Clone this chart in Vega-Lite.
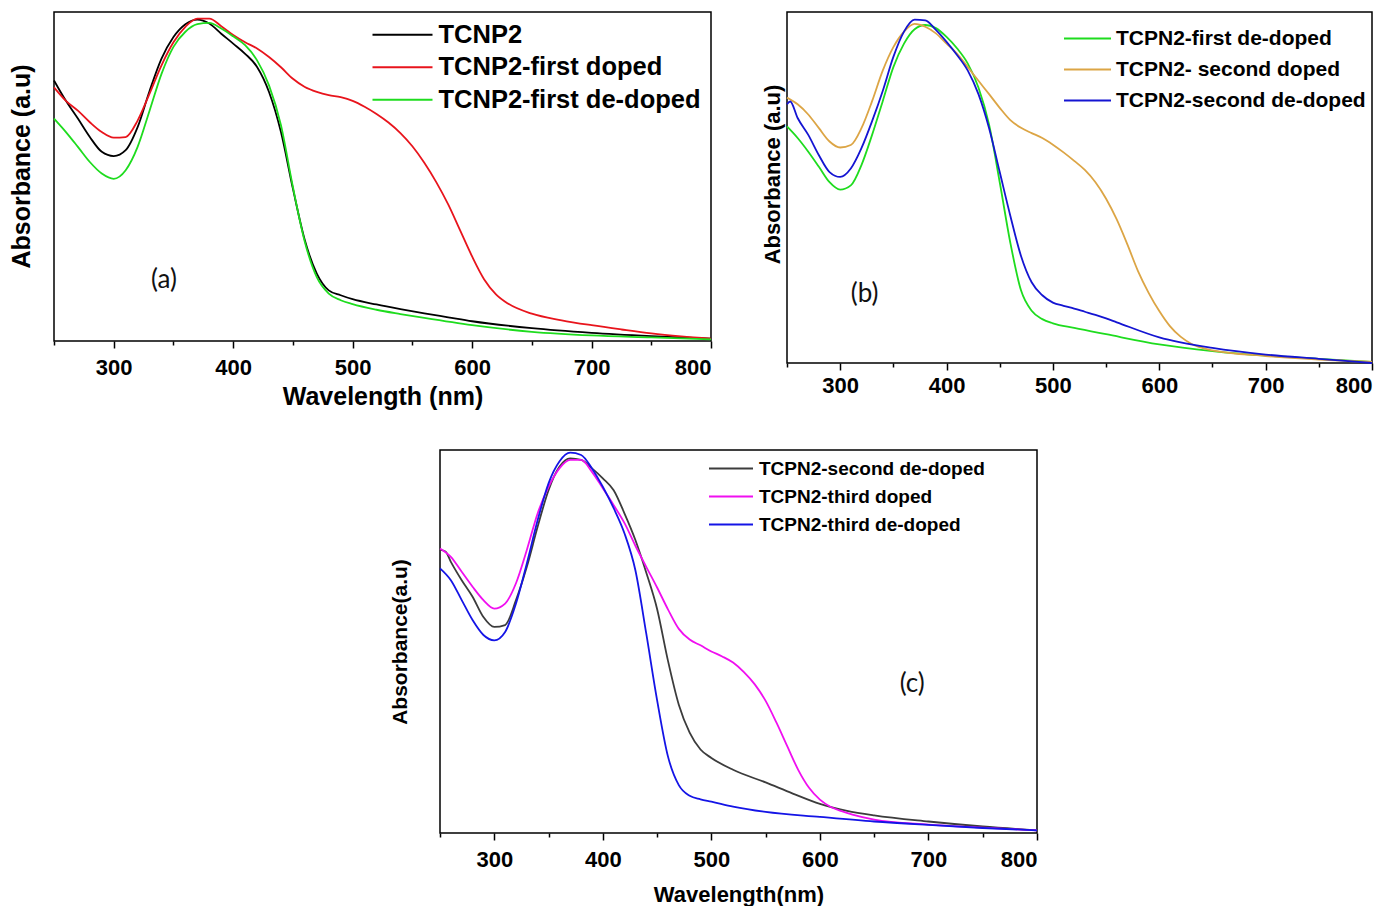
{
  "$schema": "https://vega.github.io/schema/vega-lite/v6.json",
  "background": "white",
  "padding": {"left": 8, "top": 11, "right": 0, "bottom": 0},
  "config": {
    "view": {"stroke": "black", "strokeWidth": 1.5},
    "axis": {"domain": false, "grid": false, "labelFont": "Liberation Sans", "labelFontWeight": "bold", "labelFontSize": 22, "labelColor": "black", "titleFont": "Liberation Sans", "titleFontWeight": "bold", "titleColor": "black", "tickColor": "black", "tickWidth": 1.5},
    "legend": {"labelFont": "Liberation Sans", "labelFontWeight": "bold", "labelColor": "black", "labelLimit": 600, "symbolStrokeWidth": 2, "padding": 0}
  },
  "datasets": {
    "a": [
      {"s":"TCNP2","w":250,"v":0.792},{"s":"TCNP2","w":260,"v":0.73},{"s":"TCNP2","w":270,"v":0.676},{"s":"TCNP2","w":280,"v":0.62},{"s":"TCNP2","w":290,"v":0.575},{"s":"TCNP2","w":300,"v":0.562},{"s":"TCNP2","w":310,"v":0.58},{"s":"TCNP2","w":320,"v":0.65},{"s":"TCNP2","w":330,"v":0.76},{"s":"TCNP2","w":340,"v":0.858},{"s":"TCNP2","w":350,"v":0.924},{"s":"TCNP2","w":360,"v":0.963},{"s":"TCNP2","w":370,"v":0.977},{"s":"TCNP2","w":380,"v":0.965},{"s":"TCNP2","w":390,"v":0.934},{"s":"TCNP2","w":400,"v":0.904},{"s":"TCNP2","w":410,"v":0.873},{"s":"TCNP2","w":420,"v":0.833},{"s":"TCNP2","w":430,"v":0.757},{"s":"TCNP2","w":440,"v":0.635},{"s":"TCNP2","w":450,"v":0.463},{"s":"TCNP2","w":460,"v":0.306},{"s":"TCNP2","w":470,"v":0.205},{"s":"TCNP2","w":480,"v":0.154},{"s":"TCNP2","w":490,"v":0.139},{"s":"TCNP2","w":500,"v":0.127},{"s":"TCNP2","w":520,"v":0.111},{"s":"TCNP2","w":540,"v":0.097},{"s":"TCNP2","w":560,"v":0.084},{"s":"TCNP2","w":580,"v":0.072},{"s":"TCNP2","w":600,"v":0.06},{"s":"TCNP2","w":650,"v":0.039},{"s":"TCNP2","w":700,"v":0.025},{"s":"TCNP2","w":750,"v":0.015},{"s":"TCNP2","w":800,"v":0.007},
      {"s":"TCNP2-first doped","w":250,"v":0.771},{"s":"TCNP2-first doped","w":260,"v":0.73},{"s":"TCNP2-first doped","w":270,"v":0.7},{"s":"TCNP2-first doped","w":280,"v":0.665},{"s":"TCNP2-first doped","w":290,"v":0.635},{"s":"TCNP2-first doped","w":300,"v":0.618},{"s":"TCNP2-first doped","w":310,"v":0.62},{"s":"TCNP2-first doped","w":320,"v":0.67},{"s":"TCNP2-first doped","w":330,"v":0.752},{"s":"TCNP2-first doped","w":340,"v":0.838},{"s":"TCNP2-first doped","w":350,"v":0.908},{"s":"TCNP2-first doped","w":360,"v":0.955},{"s":"TCNP2-first doped","w":370,"v":0.98},{"s":"TCNP2-first doped","w":380,"v":0.98},{"s":"TCNP2-first doped","w":390,"v":0.957},{"s":"TCNP2-first doped","w":400,"v":0.93},{"s":"TCNP2-first doped","w":410,"v":0.908},{"s":"TCNP2-first doped","w":420,"v":0.889},{"s":"TCNP2-first doped","w":430,"v":0.863},{"s":"TCNP2-first doped","w":440,"v":0.832},{"s":"TCNP2-first doped","w":450,"v":0.797},{"s":"TCNP2-first doped","w":460,"v":0.772},{"s":"TCNP2-first doped","w":470,"v":0.757},{"s":"TCNP2-first doped","w":480,"v":0.747},{"s":"TCNP2-first doped","w":490,"v":0.741},{"s":"TCNP2-first doped","w":500,"v":0.73},{"s":"TCNP2-first doped","w":510,"v":0.712},{"s":"TCNP2-first doped","w":520,"v":0.69},{"s":"TCNP2-first doped","w":530,"v":0.664},{"s":"TCNP2-first doped","w":540,"v":0.632},{"s":"TCNP2-first doped","w":550,"v":0.592},{"s":"TCNP2-first doped","w":560,"v":0.542},{"s":"TCNP2-first doped","w":570,"v":0.483},{"s":"TCNP2-first doped","w":580,"v":0.415},{"s":"TCNP2-first doped","w":590,"v":0.336},{"s":"TCNP2-first doped","w":600,"v":0.257},{"s":"TCNP2-first doped","w":610,"v":0.188},{"s":"TCNP2-first doped","w":620,"v":0.142},{"s":"TCNP2-first doped","w":630,"v":0.114},{"s":"TCNP2-first doped","w":650,"v":0.083},{"s":"TCNP2-first doped","w":675,"v":0.063},{"s":"TCNP2-first doped","w":700,"v":0.048},{"s":"TCNP2-first doped","w":725,"v":0.035},{"s":"TCNP2-first doped","w":750,"v":0.023},{"s":"TCNP2-first doped","w":775,"v":0.014},{"s":"TCNP2-first doped","w":800,"v":0.007},
      {"s":"TCNP2-first de-doped","w":250,"v":0.676},{"s":"TCNP2-first de-doped","w":260,"v":0.635},{"s":"TCNP2-first de-doped","w":270,"v":0.59},{"s":"TCNP2-first de-doped","w":280,"v":0.544},{"s":"TCNP2-first de-doped","w":290,"v":0.509},{"s":"TCNP2-first de-doped","w":300,"v":0.493},{"s":"TCNP2-first de-doped","w":310,"v":0.519},{"s":"TCNP2-first de-doped","w":320,"v":0.59},{"s":"TCNP2-first de-doped","w":330,"v":0.7},{"s":"TCNP2-first de-doped","w":340,"v":0.812},{"s":"TCNP2-first de-doped","w":350,"v":0.894},{"s":"TCNP2-first de-doped","w":360,"v":0.94},{"s":"TCNP2-first de-doped","w":370,"v":0.963},{"s":"TCNP2-first de-doped","w":380,"v":0.967},{"s":"TCNP2-first de-doped","w":390,"v":0.95},{"s":"TCNP2-first de-doped","w":400,"v":0.926},{"s":"TCNP2-first de-doped","w":410,"v":0.899},{"s":"TCNP2-first de-doped","w":420,"v":0.853},{"s":"TCNP2-first de-doped","w":430,"v":0.777},{"s":"TCNP2-first de-doped","w":440,"v":0.656},{"s":"TCNP2-first de-doped","w":450,"v":0.468},{"s":"TCNP2-first de-doped","w":460,"v":0.301},{"s":"TCNP2-first de-doped","w":470,"v":0.194},{"s":"TCNP2-first de-doped","w":480,"v":0.144},{"s":"TCNP2-first de-doped","w":490,"v":0.124},{"s":"TCNP2-first de-doped","w":500,"v":0.112},{"s":"TCNP2-first de-doped","w":520,"v":0.095},{"s":"TCNP2-first de-doped","w":540,"v":0.082},{"s":"TCNP2-first de-doped","w":560,"v":0.07},{"s":"TCNP2-first de-doped","w":600,"v":0.048},{"s":"TCNP2-first de-doped","w":650,"v":0.028},{"s":"TCNP2-first de-doped","w":700,"v":0.017},{"s":"TCNP2-first de-doped","w":750,"v":0.011},{"s":"TCNP2-first de-doped","w":800,"v":0.005}
    ],
    "b": [
      {"s":"TCPN2-first de-doped","w":250,"v":0.674},{"s":"TCPN2-first de-doped","w":260,"v":0.641},{"s":"TCPN2-first de-doped","w":270,"v":0.602},{"s":"TCPN2-first de-doped","w":280,"v":0.559},{"s":"TCPN2-first de-doped","w":290,"v":0.515},{"s":"TCPN2-first de-doped","w":300,"v":0.494},{"s":"TCPN2-first de-doped","w":310,"v":0.506},{"s":"TCPN2-first de-doped","w":320,"v":0.564},{"s":"TCPN2-first de-doped","w":330,"v":0.65},{"s":"TCPN2-first de-doped","w":340,"v":0.746},{"s":"TCPN2-first de-doped","w":350,"v":0.843},{"s":"TCPN2-first de-doped","w":360,"v":0.91},{"s":"TCPN2-first de-doped","w":370,"v":0.951},{"s":"TCPN2-first de-doped","w":380,"v":0.963},{"s":"TCPN2-first de-doped","w":390,"v":0.954},{"s":"TCPN2-first de-doped","w":400,"v":0.929},{"s":"TCPN2-first de-doped","w":410,"v":0.896},{"s":"TCPN2-first de-doped","w":420,"v":0.853},{"s":"TCPN2-first de-doped","w":430,"v":0.785},{"s":"TCPN2-first de-doped","w":440,"v":0.679},{"s":"TCPN2-first de-doped","w":450,"v":0.515},{"s":"TCPN2-first de-doped","w":460,"v":0.342},{"s":"TCPN2-first de-doped","w":470,"v":0.207},{"s":"TCPN2-first de-doped","w":480,"v":0.149},{"s":"TCPN2-first de-doped","w":490,"v":0.125},{"s":"TCPN2-first de-doped","w":500,"v":0.113},{"s":"TCPN2-first de-doped","w":520,"v":0.1},{"s":"TCPN2-first de-doped","w":550,"v":0.082},{"s":"TCPN2-first de-doped","w":600,"v":0.053},{"s":"TCPN2-first de-doped","w":650,"v":0.034},{"s":"TCPN2-first de-doped","w":700,"v":0.021},{"s":"TCPN2-first de-doped","w":750,"v":0.012},{"s":"TCPN2-first de-doped","w":800,"v":0.003},
      {"s":"TCPN2- second doped","w":250,"v":0.756},{"s":"TCPN2- second doped","w":260,"v":0.737},{"s":"TCPN2- second doped","w":270,"v":0.708},{"s":"TCPN2- second doped","w":280,"v":0.669},{"s":"TCPN2- second doped","w":290,"v":0.631},{"s":"TCPN2- second doped","w":300,"v":0.614},{"s":"TCPN2- second doped","w":310,"v":0.621},{"s":"TCPN2- second doped","w":320,"v":0.669},{"s":"TCPN2- second doped","w":330,"v":0.746},{"s":"TCPN2- second doped","w":340,"v":0.833},{"s":"TCPN2- second doped","w":350,"v":0.9},{"s":"TCPN2- second doped","w":360,"v":0.944},{"s":"TCPN2- second doped","w":370,"v":0.966},{"s":"TCPN2- second doped","w":380,"v":0.958},{"s":"TCPN2- second doped","w":390,"v":0.939},{"s":"TCPN2- second doped","w":400,"v":0.91},{"s":"TCPN2- second doped","w":410,"v":0.881},{"s":"TCPN2- second doped","w":420,"v":0.843},{"s":"TCPN2- second doped","w":430,"v":0.804},{"s":"TCPN2- second doped","w":440,"v":0.766},{"s":"TCPN2- second doped","w":450,"v":0.727},{"s":"TCPN2- second doped","w":460,"v":0.692},{"s":"TCPN2- second doped","w":470,"v":0.67},{"s":"TCPN2- second doped","w":480,"v":0.655},{"s":"TCPN2- second doped","w":490,"v":0.641},{"s":"TCPN2- second doped","w":500,"v":0.622},{"s":"TCPN2- second doped","w":510,"v":0.6},{"s":"TCPN2- second doped","w":520,"v":0.576},{"s":"TCPN2- second doped","w":530,"v":0.55},{"s":"TCPN2- second doped","w":540,"v":0.515},{"s":"TCPN2- second doped","w":550,"v":0.468},{"s":"TCPN2- second doped","w":560,"v":0.409},{"s":"TCPN2- second doped","w":570,"v":0.338},{"s":"TCPN2- second doped","w":580,"v":0.262},{"s":"TCPN2- second doped","w":590,"v":0.2},{"s":"TCPN2- second doped","w":600,"v":0.148},{"s":"TCPN2- second doped","w":610,"v":0.105},{"s":"TCPN2- second doped","w":620,"v":0.075},{"s":"TCPN2- second doped","w":630,"v":0.055},{"s":"TCPN2- second doped","w":650,"v":0.036},{"s":"TCPN2- second doped","w":700,"v":0.02},{"s":"TCPN2- second doped","w":750,"v":0.01},{"s":"TCPN2- second doped","w":800,"v":0.003},
      {"s":"TCPN2-second de-doped","w":250,"v":0.737},{"s":"TCPN2-second de-doped","w":253,"v":0.745},{"s":"TCPN2-second de-doped","w":260,"v":0.698},{"s":"TCPN2-second de-doped","w":270,"v":0.65},{"s":"TCPN2-second de-doped","w":280,"v":0.592},{"s":"TCPN2-second de-doped","w":290,"v":0.544},{"s":"TCPN2-second de-doped","w":300,"v":0.53},{"s":"TCPN2-second de-doped","w":310,"v":0.554},{"s":"TCPN2-second de-doped","w":320,"v":0.612},{"s":"TCPN2-second de-doped","w":330,"v":0.689},{"s":"TCPN2-second de-doped","w":340,"v":0.775},{"s":"TCPN2-second de-doped","w":350,"v":0.872},{"s":"TCPN2-second de-doped","w":360,"v":0.944},{"s":"TCPN2-second de-doped","w":370,"v":0.978},{"s":"TCPN2-second de-doped","w":380,"v":0.976},{"s":"TCPN2-second de-doped","w":390,"v":0.949},{"s":"TCPN2-second de-doped","w":400,"v":0.915},{"s":"TCPN2-second de-doped","w":410,"v":0.877},{"s":"TCPN2-second de-doped","w":420,"v":0.833},{"s":"TCPN2-second de-doped","w":430,"v":0.766},{"s":"TCPN2-second de-doped","w":440,"v":0.669},{"s":"TCPN2-second de-doped","w":450,"v":0.544},{"s":"TCPN2-second de-doped","w":460,"v":0.419},{"s":"TCPN2-second de-doped","w":470,"v":0.305},{"s":"TCPN2-second de-doped","w":480,"v":0.23},{"s":"TCPN2-second de-doped","w":490,"v":0.193},{"s":"TCPN2-second de-doped","w":500,"v":0.172},{"s":"TCPN2-second de-doped","w":510,"v":0.163},{"s":"TCPN2-second de-doped","w":520,"v":0.155},{"s":"TCPN2-second de-doped","w":530,"v":0.146},{"s":"TCPN2-second de-doped","w":540,"v":0.137},{"s":"TCPN2-second de-doped","w":550,"v":0.127},{"s":"TCPN2-second de-doped","w":560,"v":0.116},{"s":"TCPN2-second de-doped","w":600,"v":0.073},{"s":"TCPN2-second de-doped","w":650,"v":0.043},{"s":"TCPN2-second de-doped","w":700,"v":0.024},{"s":"TCPN2-second de-doped","w":750,"v":0.012},{"s":"TCPN2-second de-doped","w":800,"v":0.0}
    ],
    "c": [
      {"s":"TCPN2-second de-doped","w":250,"v":0.739},{"s":"TCPN2-second de-doped","w":255,"v":0.735},{"s":"TCPN2-second de-doped","w":260,"v":0.708},{"s":"TCPN2-second de-doped","w":270,"v":0.66},{"s":"TCPN2-second de-doped","w":280,"v":0.617},{"s":"TCPN2-second de-doped","w":290,"v":0.564},{"s":"TCPN2-second de-doped","w":300,"v":0.538},{"s":"TCPN2-second de-doped","w":310,"v":0.543},{"s":"TCPN2-second de-doped","w":320,"v":0.608},{"s":"TCPN2-second de-doped","w":330,"v":0.695},{"s":"TCPN2-second de-doped","w":340,"v":0.8},{"s":"TCPN2-second de-doped","w":350,"v":0.895},{"s":"TCPN2-second de-doped","w":360,"v":0.956},{"s":"TCPN2-second de-doped","w":370,"v":0.978},{"s":"TCPN2-second de-doped","w":380,"v":0.974},{"s":"TCPN2-second de-doped","w":390,"v":0.952},{"s":"TCPN2-second de-doped","w":400,"v":0.926},{"s":"TCPN2-second de-doped","w":410,"v":0.895},{"s":"TCPN2-second de-doped","w":420,"v":0.834},{"s":"TCPN2-second de-doped","w":430,"v":0.765},{"s":"TCPN2-second de-doped","w":440,"v":0.68},{"s":"TCPN2-second de-doped","w":450,"v":0.585},{"s":"TCPN2-second de-doped","w":460,"v":0.45},{"s":"TCPN2-second de-doped","w":470,"v":0.335},{"s":"TCPN2-second de-doped","w":480,"v":0.262},{"s":"TCPN2-second de-doped","w":490,"v":0.218},{"s":"TCPN2-second de-doped","w":500,"v":0.196},{"s":"TCPN2-second de-doped","w":520,"v":0.165},{"s":"TCPN2-second de-doped","w":550,"v":0.132},{"s":"TCPN2-second de-doped","w":575,"v":0.103},{"s":"TCPN2-second de-doped","w":600,"v":0.076},{"s":"TCPN2-second de-doped","w":625,"v":0.058},{"s":"TCPN2-second de-doped","w":650,"v":0.046},{"s":"TCPN2-second de-doped","w":700,"v":0.03},{"s":"TCPN2-second de-doped","w":750,"v":0.017},{"s":"TCPN2-second de-doped","w":800,"v":0.007},
      {"s":"TCPN2-third doped","w":250,"v":0.743},{"s":"TCPN2-third doped","w":260,"v":0.721},{"s":"TCPN2-third doped","w":270,"v":0.682},{"s":"TCPN2-third doped","w":280,"v":0.643},{"s":"TCPN2-third doped","w":290,"v":0.608},{"s":"TCPN2-third doped","w":300,"v":0.586},{"s":"TCPN2-third doped","w":310,"v":0.599},{"s":"TCPN2-third doped","w":320,"v":0.652},{"s":"TCPN2-third doped","w":330,"v":0.739},{"s":"TCPN2-third doped","w":340,"v":0.835},{"s":"TCPN2-third doped","w":350,"v":0.904},{"s":"TCPN2-third doped","w":360,"v":0.952},{"s":"TCPN2-third doped","w":370,"v":0.974},{"s":"TCPN2-third doped","w":380,"v":0.974},{"s":"TCPN2-third doped","w":390,"v":0.943},{"s":"TCPN2-third doped","w":400,"v":0.9},{"s":"TCPN2-third doped","w":410,"v":0.856},{"s":"TCPN2-third doped","w":420,"v":0.809},{"s":"TCPN2-third doped","w":430,"v":0.75},{"s":"TCPN2-third doped","w":440,"v":0.695},{"s":"TCPN2-third doped","w":450,"v":0.641},{"s":"TCPN2-third doped","w":460,"v":0.584},{"s":"TCPN2-third doped","w":470,"v":0.533},{"s":"TCPN2-third doped","w":480,"v":0.505},{"s":"TCPN2-third doped","w":490,"v":0.49},{"s":"TCPN2-third doped","w":500,"v":0.474},{"s":"TCPN2-third doped","w":510,"v":0.461},{"s":"TCPN2-third doped","w":520,"v":0.445},{"s":"TCPN2-third doped","w":530,"v":0.42},{"s":"TCPN2-third doped","w":540,"v":0.388},{"s":"TCPN2-third doped","w":550,"v":0.345},{"s":"TCPN2-third doped","w":560,"v":0.288},{"s":"TCPN2-third doped","w":570,"v":0.226},{"s":"TCPN2-third doped","w":580,"v":0.165},{"s":"TCPN2-third doped","w":590,"v":0.118},{"s":"TCPN2-third doped","w":600,"v":0.087},{"s":"TCPN2-third doped","w":610,"v":0.068},{"s":"TCPN2-third doped","w":620,"v":0.057},{"s":"TCPN2-third doped","w":630,"v":0.048},{"s":"TCPN2-third doped","w":650,"v":0.035},{"s":"TCPN2-third doped","w":700,"v":0.022},{"s":"TCPN2-third doped","w":750,"v":0.014},{"s":"TCPN2-third doped","w":800,"v":0.007},
      {"s":"TCPN2-third de-doped","w":250,"v":0.691},{"s":"TCPN2-third de-doped","w":260,"v":0.66},{"s":"TCPN2-third de-doped","w":270,"v":0.608},{"s":"TCPN2-third de-doped","w":280,"v":0.556},{"s":"TCPN2-third de-doped","w":290,"v":0.517},{"s":"TCPN2-third de-doped","w":300,"v":0.503},{"s":"TCPN2-third de-doped","w":310,"v":0.525},{"s":"TCPN2-third de-doped","w":320,"v":0.599},{"s":"TCPN2-third de-doped","w":330,"v":0.704},{"s":"TCPN2-third de-doped","w":340,"v":0.817},{"s":"TCPN2-third de-doped","w":350,"v":0.913},{"s":"TCPN2-third de-doped","w":360,"v":0.97},{"s":"TCPN2-third de-doped","w":370,"v":0.993},{"s":"TCPN2-third de-doped","w":380,"v":0.987},{"s":"TCPN2-third de-doped","w":390,"v":0.952},{"s":"TCPN2-third de-doped","w":400,"v":0.904},{"s":"TCPN2-third de-doped","w":410,"v":0.848},{"s":"TCPN2-third de-doped","w":420,"v":0.782},{"s":"TCPN2-third de-doped","w":430,"v":0.686},{"s":"TCPN2-third de-doped","w":440,"v":0.521},{"s":"TCPN2-third de-doped","w":450,"v":0.347},{"s":"TCPN2-third de-doped","w":460,"v":0.2},{"s":"TCPN2-third de-doped","w":470,"v":0.125},{"s":"TCPN2-third de-doped","w":480,"v":0.097},{"s":"TCPN2-third de-doped","w":490,"v":0.088},{"s":"TCPN2-third de-doped","w":500,"v":0.082},{"s":"TCPN2-third de-doped","w":520,"v":0.069},{"s":"TCPN2-third de-doped","w":550,"v":0.055},{"s":"TCPN2-third de-doped","w":600,"v":0.042},{"s":"TCPN2-third de-doped","w":650,"v":0.03},{"s":"TCPN2-third de-doped","w":700,"v":0.021},{"s":"TCPN2-third de-doped","w":750,"v":0.013},{"s":"TCPN2-third de-doped","w":800,"v":0.007}
    ]
  },
  "spacing": 38,
  "resolve": {"scale": {"color": "independent", "x": "independent", "y": "independent"}, "legend": {"color": "independent"}},
  "vconcat": [
    {
      "spacing": 44,
      "resolve": {"scale": {"color": "independent", "x": "independent", "y": "independent"}, "legend": {"color": "independent"}},
      "hconcat": [
        {
          "width": 657, "height": 329,
          "layer": [
            {
              "data": {"name": "a"},
              "mark": {"type": "line", "strokeWidth": 1.8, "interpolate": "monotone"},
              "encoding": {
                "x": {"field": "w", "type": "quantitative", "scale": {"domain": [250, 800], "nice": false, "zero": false},
                  "axis": {"title": "Wavelength (nm)", "titleFontSize": 25, "titlePadding": 6, "values": [250,300,350,400,450,500,550,600,650,700,750,800], "labelExpr": "datum.value % 100 === 0 ? datum.label : ''", "tickSize": {"condition": {"test": "datum.value % 100 !== 0", "value": 4}, "value": 7}, "labelPadding": 9}},
                "y": {"field": "v", "type": "quantitative", "scale": {"domain": [0, 1], "nice": false},
                  "axis": {"title": "Absorbance (a.u)", "labels": false, "ticks": false, "titleFontSize": 25, "titlePadding": 20, "titleY": 154}},
                "color": {"field": "s", "type": "nominal",
                  "scale": {"domain": ["TCNP2", "TCNP2-first doped", "TCNP2-first de-doped"], "range": ["#000000", "#e8141c", "#1edc1e"]},
                  "legend": {"title": null, "orient": "top-right", "offset": 10, "symbolType": "M-4.525,0H1.475", "symbolSize": 400, "labelFontSize": 25.5, "labelOffset": 8, "rowPadding": 5.5}}
              }
            },
            {
              "data": {"values": [{"label": "(a)"}]},
              "mark": {"type": "text", "font": "Lato", "fontSize": 26, "color": "#111111"},
              "encoding": {"x": {"datum": 342}, "y": {"datum": 0.185}, "text": {"field": "label"}}
            }
          ]
        },
        {
          "width": 585, "height": 351,
          "layer": [
            {
              "data": {"name": "b"},
              "mark": {"type": "line", "strokeWidth": 1.8, "interpolate": "monotone"},
              "encoding": {
                "x": {"field": "w", "type": "quantitative", "scale": {"domain": [250, 800], "nice": false, "zero": false},
                  "axis": {"title": null, "values": [250,300,350,400,450,500,550,600,650,700,750,800], "labelExpr": "datum.value % 100 === 0 ? datum.label : ''", "tickSize": {"condition": {"test": "datum.value % 100 !== 0", "value": 4}, "value": 7}, "labelPadding": 5}},
                "y": {"field": "v", "type": "quantitative", "scale": {"domain": [0, 1], "nice": false},
                  "axis": {"title": "Absorbance (a.u)", "labels": false, "ticks": false, "titleFontSize": 22, "titlePadding": 3, "titleY": 162}},
                "color": {"field": "s", "type": "nominal",
                  "scale": {"domain": ["TCPN2-first de-doped", "TCPN2- second doped", "TCPN2-second de-doped"], "range": ["#1edc1e", "#dca545", "#1414d2"]},
                  "legend": {"title": null, "orient": "none", "legendX": 302, "legendY": 16, "symbolType": "M-4.4375,0H1.4375", "symbolSize": 256, "labelFontSize": 21, "labelOffset": 6, "rowPadding": 9}}
              }
            },
            {
              "data": {"values": [{"label": "(b)"}]},
              "mark": {"type": "text", "font": "Lato", "fontSize": 26, "color": "#111111"},
              "encoding": {"x": {"datum": 323}, "y": {"datum": 0.197}, "text": {"field": "label"}}
            }
          ]
        }
      ]
    },
    {
      "spacing": 0,
      "resolve": {"scale": {"color": "independent", "x": "independent", "y": "independent"}, "legend": {"color": "independent"}},
      "hconcat": [
        {
          "width": 334, "height": 10,
          "view": {"stroke": null},
          "data": {"values": []},
          "mark": "text",
          "encoding": {}
        },
        {
          "width": 597, "height": 383,
          "layer": [
            {
              "data": {"name": "c"},
              "mark": {"type": "line", "strokeWidth": 1.8, "interpolate": "monotone"},
              "encoding": {
                "x": {"field": "w", "type": "quantitative", "scale": {"domain": [250, 800], "nice": false, "zero": false},
                  "axis": {"title": "Wavelength(nm)", "titleFontSize": 22, "titlePadding": 14, "values": [250,300,350,400,450,500,550,600,650,700,750,800], "labelExpr": "datum.value % 100 === 0 ? datum.label : ''", "tickSize": {"condition": {"test": "datum.value % 100 !== 0", "value": 4}, "value": 7}, "labelPadding": 9}},
                "y": {"field": "v", "type": "quantitative", "scale": {"domain": [0, 1], "nice": false},
                  "axis": {"title": "Absorbance(a.u)", "labels": false, "ticks": false, "titleFontSize": 21, "titlePadding": 30}},
                "color": {"field": "s", "type": "nominal",
                  "scale": {"domain": ["TCPN2-second de-doped", "TCPN2-third doped", "TCPN2-third de-doped"], "range": ["#3c3c3c", "#f00ff0", "#1414e6"]},
                  "legend": {"title": null, "orient": "none", "legendX": 294, "legendY": 9, "symbolType": "M-4.6,0H1.267", "symbolSize": 225, "labelFontSize": 19, "labelOffset": 6, "rowPadding": 8}}
              }
            },
            {
              "data": {"values": [{"label": "(c)"}]},
              "mark": {"type": "text", "font": "Lato", "fontSize": 26, "color": "#111111"},
              "encoding": {"x": {"datum": 685}, "y": {"datum": 0.39}, "text": {"field": "label"}}
            }
          ]
        }
      ]
    }
  ]
}
